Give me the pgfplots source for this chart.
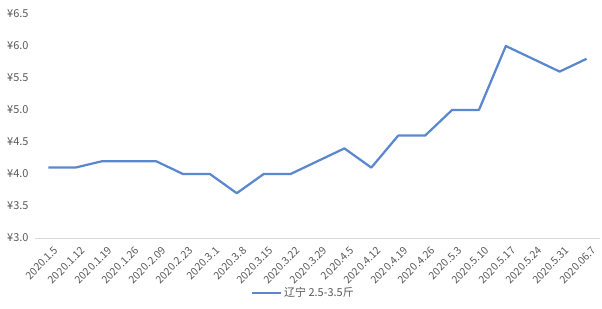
\documentclass[border=0pt]{standalone}
\usepackage{fontspec}
\setmainfont{Noto Sans CJK SC}
\usepackage{pgfplots}
\pgfplotsset{compat=1.18}
\definecolor{lineblue}{HTML}{5B87CF}
\definecolor{ticktext}{HTML}{595959}
\definecolor{axisgray}{HTML}{D9D9D9}
\begin{document}
\begin{tikzpicture}
\path[use as bounding box] (-35bp,-71bp) rectangle (567bp,238bp);
\begin{axis}[
  at={(0,0)}, anchor=south west,
  scale only axis,
  width=565bp, height=224bp,
  xmin=-0.5, xmax=20.5,
  ymin=3, ymax=6.5,
  ytick={3,3.5,4,4.5,5,5.5,6,6.5},
  /pgf/number format/assume math mode=true,
  yticklabel={¥\pgfmathprintnumber[fixed,fixed zerofill,precision=1]{\tick}},
  xtick={0,...,20},
  xticklabels={2020.1.5,2020.1.12,2020.1.19,2020.1.26,2020.2.09,2020.2.23,2020.3.1,2020.3.8,2020.3.15,2020.3.22,2020.3.29,2020.4.5,2020.4.12,2020.4.19,2020.4.26,2020.5.3,2020.5.10,2020.5.17,2020.5.24,2020.5.31,2020.06.7},
  x tick label style={rotate=45, anchor=north east, inner sep=0pt, xshift=-2bp, yshift=-9bp, font=\fontsize{10.5}{11}\selectfont, text=ticktext},
  y tick label style={font=\fontsize{11}{12}\selectfont, text=ticktext, xshift=-3bp},
  axis x line*=bottom,
  axis y line*=left,
  y axis line style={draw=none},
  x axis line style={draw=axisgray, line width=0.75pt},
  major tick length=0pt,
  tick style={draw=none},
  legend style={at={(0.475,-0.245)}, anchor=center, draw=none, font=\fontsize{11}{12}\selectfont, text=ticktext, legend cell align=left, inner sep=1pt},
  legend image code/.code={\draw[#1, line width=2.25pt] (0bp,0bp) -- (29bp,0bp);},
  clip=false,
]
\addplot[color=lineblue, line width=2.25pt, line join=round, mark=none] coordinates {
(0,4.1) (1,4.1) (2,4.2) (3,4.2) (4,4.2) (5,4.0) (6,4.0) (7,3.7) (8,4.0) (9,4.0)
(10,4.2) (11,4.4) (12,4.1) (13,4.6) (14,4.6) (15,5.0) (16,5.0) (17,6.0) (18,5.8) (19,5.6) (20,5.8)
};
\addlegendentry{辽宁 2.5-3.5斤}
\end{axis}
\end{tikzpicture}
\end{document}
